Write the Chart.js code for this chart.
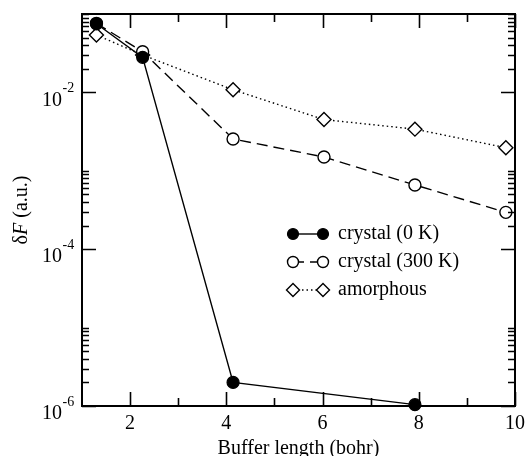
<!DOCTYPE html>
<html><head><meta charset="utf-8">
<script src="https://cdn.jsdelivr.net/npm/chart.js@4/dist/chart.umd.min.js"></script>
<style>html,body{margin:0;padding:0;background:#fff}#wrap{width:525px;height:456px}</style>
</head><body><div id="wrap"><canvas id="c" width="525" height="456"></canvas></div>
<script>
// ---- data ----
const bufferLength = [1.3, 2.26, 4.14, 6.03, 7.92, 9.81];
const crystal0K   = [0.075, 0.028, 2.0e-6, null, 1.04e-6, null];
const crystal300K = [0.076, 0.033, 0.00255, 0.0015, 0.00066, 0.000295];
const amorphous   = [0.054, 0.030, 0.0108, 0.0045, 0.0034, 0.00197];
const seriesNames = ['crystal (0 K)', 'crystal (300 K)', 'amorphous'];
const xTickValues = [2, 4, 6, 8, 10];
const xMinorValues = [3, 5, 7, 9];
const yTickValues = [1e-6, 1e-4, 1e-2];
const yTickBase = ['10', '10', '10'];
const yTickExp = ['-6', '-4', '-2'];
const yMinorDecades = [-6, -4, -2];
const xTitle = 'Buffer length (bohr)';
const yTitleParts = [['\u03B4', ''], ['F', 'italic '], [' (a.u.)', '']];

const FONT = "'Liberation Serif', 'Times New Roman', serif";

function pts(ys) {
  const out = [];
  ys.forEach((y, i) => { if (y !== null) out.push({x: bufferLength[i], y}); });
  return out;
}

const datasets = [
  {label: seriesNames[0], data: pts(crystal0K), borderColor: '#000', backgroundColor: '#000',
   borderWidth: 1.4, pointStyle: 'circle', pointRadius: 6, pointBackgroundColor: '#000', pointBorderWidth: 1.2, clip: false, order: 1},
  {label: seriesNames[1], data: pts(crystal300K), borderColor: '#000', backgroundColor: '#fff',
   borderWidth: 1.4, borderDash: [11, 6], pointStyle: 'circle', pointRadius: 6, pointBackgroundColor: '#fff', pointBorderWidth: 1.4, clip: false, order: 2},
  {label: seriesNames[2], data: pts(amorphous), borderColor: '#000', backgroundColor: '#fff',
   borderWidth: 1.4, borderDash: [1.5, 3], pointStyle: 'rectRot', pointRadius: 7, pointBackgroundColor: '#fff', pointBorderWidth: 1.4, clip: false, order: 3}
];

const framePlugin = {
  id: 'frame',
  afterDraw(chart) {
    const {ctx, chartArea: a, scales: {x, y}} = chart;
    ctx.save();
    ctx.strokeStyle = '#000';
    ctx.lineWidth = 1.6;
    const MAJ = 14, MIN = 7;
    ctx.beginPath();
    xTickValues.forEach(v => {
      const px = Math.round(x.getPixelForValue(v)) + 0.5;
      ctx.moveTo(px, a.bottom); ctx.lineTo(px, a.bottom - MAJ);
      ctx.moveTo(px, a.top); ctx.lineTo(px, a.top + MAJ);
    });
    xMinorValues.forEach(v => {
      const px = Math.round(x.getPixelForValue(v)) + 0.5;
      ctx.moveTo(px, a.bottom); ctx.lineTo(px, a.bottom - MIN - 1);
      ctx.moveTo(px, a.top); ctx.lineTo(px, a.top + MIN + 1);
    });
    yTickValues.forEach(v => {
      const py = Math.round(y.getPixelForValue(v)) + 0.5;
      ctx.moveTo(a.left, py); ctx.lineTo(a.left + MAJ, py);
      ctx.moveTo(a.right, py); ctx.lineTo(a.right - MAJ, py);
    });
    yMinorDecades.forEach(d => {
      for (let k = 2; k <= 10; k++) {
        const py = Math.round(y.getPixelForValue(k * Math.pow(10, d))) + 0.5;
        ctx.moveTo(a.left, py); ctx.lineTo(a.left + MIN, py);
        ctx.moveTo(a.right, py); ctx.lineTo(a.right - MIN, py);
      }
    });
    ctx.stroke();
    ctx.lineWidth = 2;
    ctx.strokeRect(a.left, a.top, a.right - a.left, a.bottom - a.top);

    // y tick labels (10 with raised exponent) at the scale's own ticks
    ctx.fillStyle = '#000';
    y.ticks.forEach(t => {
      const i = yTickValues.findIndex(v => Math.abs(v - t.value) / v < 1e-6);
      if (i < 0) return;
      const py = y.getPixelForValue(t.value);
      const bx = 62;
      ctx.textAlign = 'right';
      ctx.textBaseline = 'middle';
      ctx.font = '20px ' + FONT;
      ctx.fillText(yTickBase[i], bx, py + 8);
      ctx.textAlign = 'left';
      ctx.font = '14px ' + FONT;
      ctx.fillText(yTickExp[i], bx + 0.5, py - 4);
    });

    // y-axis title with italic F
    ctx.textBaseline = 'middle';
    ctx.textAlign = 'left';
    let total = 0;
    yTitleParts.forEach(([t, st]) => { ctx.font = st + '20px ' + FONT; total += ctx.measureText(t).width; });
    ctx.translate(22, (a.top + a.bottom) / 2);
    ctx.rotate(-Math.PI / 2);
    let cx = -total / 2;
    yTitleParts.forEach(([t, st]) => { ctx.font = st + '20px ' + FONT; ctx.fillText(t, cx, 0); cx += ctx.measureText(t).width; });
    ctx.restore();

    // legend
    ctx.save();
    const rows = [234, 262, 290];
    const x1 = 293, x2 = 323, tx = 338;
    chart.data.datasets.forEach((ds, i) => {
      const yy = rows[i];
      ctx.strokeStyle = '#000';
      ctx.lineWidth = ds.borderWidth;
      ctx.setLineDash(ds.borderDash || []);
      ctx.beginPath(); ctx.moveTo(x1, yy); ctx.lineTo(x2, yy); ctx.stroke();
      ctx.setLineDash([]);
      [x1, x2].forEach(px => {
        ctx.fillStyle = ds.pointBackgroundColor;
        ctx.lineWidth = ds.pointBorderWidth;
        Chart.helpers.drawPoint(ctx, {pointStyle: ds.pointStyle, radius: ds.pointStyle === 'rectRot' ? 6.5 : 5.5, rotation: 0, borderWidth: ds.pointBorderWidth}, px, yy);
      });
      ctx.fillStyle = '#000';
      ctx.font = '20px ' + FONT;
      ctx.textBaseline = 'middle';
      ctx.textAlign = 'left';
      ctx.fillText(ds.label, tx, yy);
    });
    ctx.restore();
  }
};

new Chart(document.getElementById('c'), {
  type: 'line',
  data: {datasets},
  options: {
    responsive: false,
    devicePixelRatio: 1,
    animation: false,
    layout: {padding: {left: 0, right: 10, top: 14, bottom: 0}},
    plugins: {legend: {display: false}, tooltip: {enabled: false}},
    scales: {
      x: {
        type: 'linear', min: 1, max: 10,
        afterBuildTicks: s => { s.ticks = xTickValues.map(v => ({value: v})); },
        afterFit: s => { s.height = 50; s.paddingLeft = 0; s.paddingRight = 0; },
        grid: {display: false, drawTicks: false},
        border: {display: false},
        ticks: {color: '#000', font: {family: FONT, size: 20}, padding: 6, maxRotation: 0, autoSkip: false},
        title: {display: true, text: xTitle, color: '#000', font: {family: FONT, size: 20}, padding: {top: 0, bottom: -5}}
      },
      y: {
        type: 'logarithmic', min: 1e-6, max: 1e-1,
        afterBuildTicks: s => { s.ticks = yTickValues.map(v => ({value: v})); },
        afterFit: s => { s.width = 82; s.paddingTop = 0; s.paddingBottom = 0; },
        grid: {display: false, drawTicks: false},
        border: {display: false},
        ticks: {display: false}
      }
    }
  },
  plugins: [framePlugin]
});
</script></body></html>
